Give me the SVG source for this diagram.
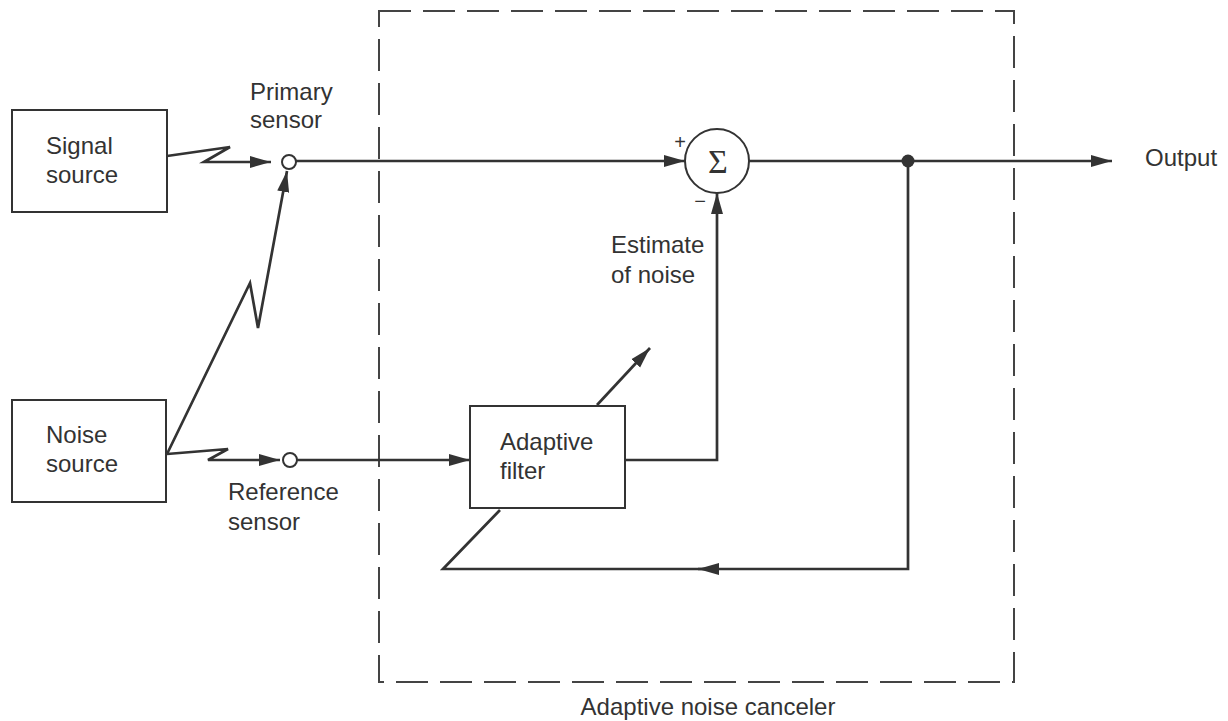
<svg xmlns="http://www.w3.org/2000/svg" width="1228" height="721" viewBox="0 0 1228 721">
<defs>
<style>
.box{fill:#fff;stroke:#333;stroke-width:2}
.ln{fill:none;stroke:#333;stroke-width:2.7}
.dash{fill:none;stroke:#444;stroke-width:2;stroke-dasharray:32 12}
.t{font-family:"Liberation Sans",Arial,sans-serif;font-size:24px;fill:#333}
.sens{fill:#fff;stroke:#333;stroke-width:2}
</style>
<marker id="ah" markerUnits="userSpaceOnUse" markerWidth="22" markerHeight="14" refX="21" refY="7" orient="auto">
<path d="M0,1 L21,7 L0,13 z" fill="#333"/>
</marker>
</defs>
<rect width="1228" height="721" fill="#fff"/>
<g id="canceler">
<rect class="dash" x="379" y="11" width="635" height="671"/>
<text class="t" x="708" y="715" text-anchor="middle">Adaptive noise canceler</text>
</g>
<g id="connectors">
<path class="ln" d="M167,156 L230,147 L204,162 L271,162" marker-end="url(#ah)"/>
<path class="ln" d="M167,454 L250,283 L258,328 L287,171" marker-end="url(#ah)"/>
<path class="ln" d="M167,454 L228,449 L208,460 L280,460" marker-end="url(#ah)"/>
<path class="ln" d="M297,460 L470,460" marker-end="url(#ah)"/>
<path class="ln" d="M296,161 L685,161" marker-end="url(#ah)"/>
<path class="ln" d="M749,161 L1112,161" marker-end="url(#ah)"/>
<path class="ln" d="M625,460 L717,460 L717,193" marker-end="url(#ah)"/>
<path class="ln" d="M908,161 L908,569 L698,569" marker-end="url(#ah)"/>
<path class="ln" d="M705,569 L443,569 L500,510"/>
<path class="ln" d="M597,405 L650,348" marker-end="url(#ah)"/>
<circle cx="908" cy="161" r="6.5" fill="#333"/>
</g>
<g id="signal-source">
<rect class="box" x="12" y="110" width="155" height="102"/>
<text class="t" x="46" y="154">Signal</text>
<text class="t" x="46" y="183">source</text>
</g>
<g id="noise-source">
<rect class="box" x="12" y="400" width="154" height="102"/>
<text class="t" x="46" y="443">Noise</text>
<text class="t" x="46" y="472">source</text>
</g>
<g id="primary-sensor">
<circle class="sens" cx="289" cy="162" r="7"/>
<text class="t" x="250" y="100">Primary</text>
<text class="t" x="250" y="128">sensor</text>
</g>
<g id="reference-sensor">
<circle class="sens" cx="290" cy="460" r="7"/>
<text class="t" x="228" y="500">Reference</text>
<text class="t" x="228" y="530">sensor</text>
</g>
<g id="summer">
<circle cx="717" cy="161" r="32" fill="#fff" stroke="#333" stroke-width="2"/>
<text x="718" y="173" text-anchor="middle" style="font-family:'Liberation Serif','Times New Roman',serif;font-size:34px;fill:#333">Σ</text>
<text class="t" x="680" y="149" text-anchor="middle" style="font-size:20px">+</text>
<text class="t" x="700" y="208" text-anchor="middle" style="font-size:20px">−</text>
<text class="t" x="611" y="253">Estimate</text>
<text class="t" x="611" y="283">of noise</text>
</g>
<g id="adaptive-filter">
<rect class="box" x="470" y="406" width="155" height="102"/>
<text class="t" x="500" y="450">Adaptive</text>
<text class="t" x="500" y="479">filter</text>
</g>
<g id="output">
<text class="t" x="1145" y="166">Output</text>
</g>
</svg>
